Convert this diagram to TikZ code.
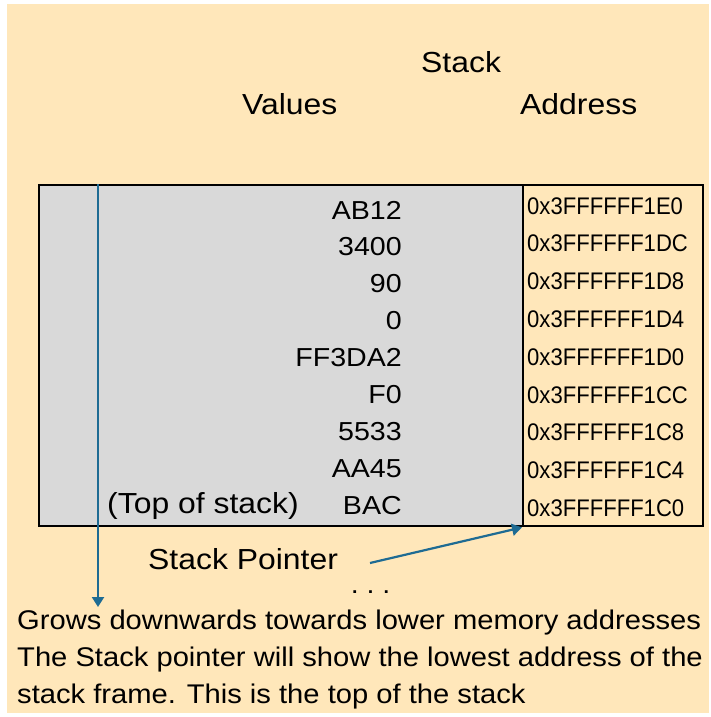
\documentclass[tikz,border=0pt]{standalone}
\usepackage{fontspec}
\setmainfont{Liberation Sans}
\newfontfamily\hdrfont[FakeStretch=1.1]{Liberation Sans}
\newfontfamily\addrfont[FakeStretch=0.92]{Liberation Sans}
\newfontfamily\notefont[FakeStretch=1.08]{Liberation Sans}
\usetikzlibrary{arrows.meta}
\definecolor{paper}{HTML}{FFE7BA}
\definecolor{cellgray}{HTML}{D9D9D9}
\definecolor{arrowblue}{HTML}{1E6B93}
\tikzset{
  lbl/.style={inner sep=0pt, anchor=base west, font=\hdrfont\fontsize{29}{34}\selectfont},
  val/.style={inner sep=0pt, anchor=base east, font=\hdrfont\fontsize{26}{30}\selectfont},
  addr/.style={inner sep=0pt, anchor=base west, font=\addrfont\fontsize{24}{28}\selectfont},
  note/.style={inner sep=0pt, anchor=base west, font=\notefont\fontsize{27}{32}\selectfont},
  boxframe/.style={draw=black, line width=2.4pt, inner sep=0pt, anchor=north west},
  ptr/.style={draw=arrowblue, line width=2.2pt, -{Triangle[length=10pt,width=12pt]}},
}
\begin{document}
\begin{tikzpicture}[x=1pt,y=-1pt]
  \useasboundingbox (0,0) rectangle (711,717);
  \fill[white] (0,0) rectangle (711,717);
  \fill[paper] (7,4) rectangle (709,713);

  % column headings
  \node[lbl] (hstack) at (421,73) {Stack};
  \node[lbl] (hval) at (242,114) {Values};
  \node[lbl] (haddr) at (520,114) {Address};

  % the stack frame and its address column
  \node[boxframe, fill=cellgray, minimum width=484pt, minimum height=341pt] (frame) at (38,184) {};
  \node[boxframe, fill=paper, minimum width=180pt, minimum height=341pt] (addrbox) at (522,184) {};

  % stored values, highest address first
  \foreach \v [count=\i from 0] in {AB12,3400,90,0,FF3DA2,F0,5533,AA45,BAC}
    \node[val] (v\i) at (402,219+36.9*\i) {\v};

  % addresses of the slots
  \foreach \a [count=\i from 0] in {1E0,1DC,1D8,1D4,1D0,1CC,1C8,1C4,1C0}
    \node[addr] (a\i) at (527,214+37.8*\i) {0x3FFFFFF\a};

  \node[lbl] (top) at (107,513) {(Top of stack)};

  % growth direction
  \coordinate (growtop) at (98,184);
  \coordinate (growend) at (98,607);
  \draw[ptr] (growtop) -- (growend);

  % stack pointer
  \node[lbl] (sp) at (148,569) {Stack Pointer};
  \coordinate (spstart) at (370,563);
  \draw[ptr] (spstart) -- (addrbox.south west);

  \node[inner sep=0pt, anchor=base, font=\hdrfont\fontsize{26}{30}\selectfont] (dots) at (370.5,593) {.\hspace{0.3em}.\hspace{0.3em}.};

  % notes
  \node[note] (n1) at (17,629) {Grows downwards towards lower memory addresses};
  \node[note] (n2) at (17,666) {The Stack pointer will show the lowest address of the};
  \node[note] (n3) at (17,703) {stack frame. This is the top of the stack};
\end{tikzpicture}
\end{document}
